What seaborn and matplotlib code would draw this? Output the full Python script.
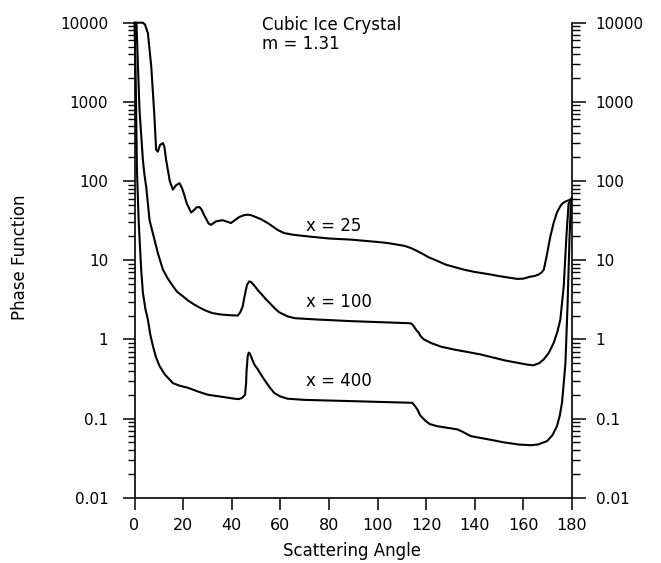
import numpy as np
import pandas as pd
import matplotlib
matplotlib.use("Agg")
import matplotlib.pyplot as plt
import matplotlib.ticker as mticker
import seaborn as sns

# ---- data ----
angle_x25 = [0, 3.4, 4.3, 5.5, 6.9, 8.2, 8.9, 9.6, 10.5, 11.7, 12.3, 13.0, 14.5, 15.8, 17.0,
             18.5, 19.5, 20.4, 21.5, 23.3, 24.5, 25.5, 26.7, 27.5, 28.5, 30.5, 31.5, 33.6,
             36.3, 39.7, 43.0, 45.0, 46.6, 48.0, 50.4, 52.0, 54.8, 57.0, 59.0, 61.6, 65.0,
             71.2, 80.0, 89.0, 100.0, 104.0, 108.2, 111.0, 113.6, 116.0, 119.0, 121.0, 124.6,
             128.0, 135.5, 140.0, 146.5, 150.0, 157.5, 160.0, 162.9, 164.5, 166.3, 167.5,
             168.4, 169.5, 171.1, 172.5, 173.8, 175.0, 176.0, 177.3, 179.1, 180]
phase_x25 = [10000, 10000, 9500, 7400, 2790, 650, 248, 235, 285, 302, 270, 186, 100, 78, 88,
             94, 82, 68, 52, 40, 43, 46.5, 47, 44, 38, 29, 28, 31,
             32, 29.5, 35, 37, 37.6, 37, 34.6, 33, 29.5, 26.5, 24, 22, 21,
             20, 18.8, 18.2, 17, 16.5, 15.7, 15.2, 14.3, 13.2, 11.8, 10.9, 9.8,
             8.8, 7.6, 7.1, 6.6, 6.3, 5.8, 5.85, 6.2, 6.3, 6.6, 7.0,
             7.6, 11, 20, 30, 40, 47, 52, 55, 58, 61]

angle_x100 = [0, 0.8, 2.05, 3.45, 4.1, 4.8, 6.2, 7.7, 9.6, 11.7, 13.5, 15.8, 17.5, 19.9, 22.0,
              24.6, 27.0, 29.4, 32.0, 35.6, 39.0, 42.5, 43.5, 44.5, 45.2, 45.9, 46.3, 47.2,
              48.0, 48.7, 49.5, 50.7, 52.0, 54.1, 55.5, 57.5, 59.5, 63.0, 66.0, 75.3, 89.0,
              113.0, 114.0, 115.0, 116.0, 117.0, 117.5, 119.0, 120.5, 122.0, 126.0, 131.4,
              142.4, 152.6, 161.6, 164.0, 166.5, 168.4, 170.5, 172.5, 174.0, 175.2, 176.6,
              177.7, 178.6, 180]
phase_x100 = [10000, 10000, 800, 185, 120, 85, 32, 21, 12.3, 7.6, 6.0, 4.7, 4.0, 3.5, 3.1,
              2.75, 2.5, 2.3, 2.15, 2.06, 2.02, 2.0, 2.2, 2.6, 3.4, 4.3, 4.9, 5.4,
              5.3, 5.0, 4.7, 4.2, 3.8, 3.2, 2.9, 2.5, 2.2, 1.95, 1.85, 1.78, 1.7,
              1.6, 1.58, 1.45, 1.3, 1.21, 1.12, 1.0, 0.95, 0.9, 0.81, 0.745,
              0.645, 0.54, 0.48, 0.47, 0.5, 0.56, 0.68, 0.91, 1.25, 1.78, 4.7,
              20, 52, 60]

angle_x400 = [0, 0.4, 0.8, 1.0, 1.7, 2.75, 3.45, 4.5, 5.5, 6.5, 7.6, 8.8, 10.3, 12.5, 15.8,
              18.5, 21.9, 26.0, 30.1, 35.0, 41.1, 43.0, 44.5, 44.8, 45.5, 45.7, 45.9, 46.1,
              46.6, 47.0, 47.5, 48.7, 49.5, 50.7, 52.0, 53.4, 55.5, 57.5, 60.0, 63.0, 70.0,
              89.0, 114.3, 115.3, 116.4, 117.5, 119.8, 121.5, 124.6, 128.0, 132.8, 135.0,
              138.3, 145.0, 152.0, 158.0, 162.9, 166.0, 169.8, 172.0, 173.8, 175.0, 175.9,
              176.6, 177.3, 178.2, 179.0, 179.6, 180]
phase_x400 = [10000, 3000, 400, 140, 32, 7.6, 3.9, 2.4, 1.78, 1.15, 0.82, 0.6, 0.46, 0.36, 0.28,
              0.26, 0.245, 0.22, 0.2, 0.19, 0.178, 0.176, 0.184, 0.19, 0.2, 0.24, 0.27, 0.4,
              0.62, 0.68, 0.66, 0.53, 0.47, 0.42, 0.36, 0.31, 0.25, 0.21, 0.19, 0.178, 0.172,
              0.166, 0.158, 0.145, 0.13, 0.11, 0.093, 0.085, 0.08, 0.077, 0.073, 0.068,
              0.06, 0.055, 0.05, 0.047, 0.046, 0.047, 0.052, 0.062, 0.08, 0.11, 0.16,
              0.28, 0.5, 2.9, 20, 58, 60]

series_names = ["x = 25", "x = 100", "x = 400"]
y_ticks = [0.01, 0.1, 1, 10, 100, 1000, 10000]
y_tick_labels = ["0.01", "0.1", "1", "10", "100", "1000", "10000"]
x_ticks = [0, 20, 40, 60, 80, 100, 120, 140, 160, 180]

df = pd.concat([
    pd.DataFrame({"angle": angle_x25, "phase": phase_x25, "size": series_names[0]}),
    pd.DataFrame({"angle": angle_x100, "phase": phase_x100, "size": series_names[1]}),
    pd.DataFrame({"angle": angle_x400, "phase": phase_x400, "size": series_names[2]}),
], ignore_index=True)

sns.set_style("ticks")
plt.rcParams["font.family"] = ["DejaVu Sans"]
plt.rcParams["text.color"] = "black"
plt.rcParams["axes.labelcolor"] = "black"
plt.rcParams["xtick.color"] = "black"
plt.rcParams["ytick.color"] = "black"

fig = plt.figure(figsize=(6.61, 5.63), dpi=100)
L, R = 134.5 / 661, 572 / 661
B, T = 1 - 497.7 / 563, 1 - 22.7 / 563
ax = fig.add_axes([L, B, R - L, T - B])

sns.lineplot(data=df, x="angle", y="phase", hue="size", units="size", estimator=None,
             sort=False, palette=["black"] * 3, linewidth=1.5, legend=False, ax=ax)
for ln in ax.lines:
    ln.set_clip_on(False)
    ln.set_solid_joinstyle("round")

ax.set_yscale("log")
ax.set_xlim(0, 180)
ax.set_ylim(0.01, 10000)

ax.set_xticks(x_ticks)
ax.set_xticklabels([str(t) for t in x_ticks], fontsize=11.5)
ax.set_yticks(y_ticks)
ax.set_yticklabels(y_tick_labels, fontsize=11)
ax.yaxis.set_minor_locator(mticker.LogLocator(base=10, subs=np.arange(2, 10), numticks=20))
ax.yaxis.set_minor_formatter(mticker.NullFormatter())

ax.tick_params(axis="x", which="major", direction="out", length=8.8, width=1.1, pad=6)
ax.tick_params(axis="y", which="major", direction="out", length=8.4, width=1.1, pad=10.5)
ax.tick_params(axis="y", which="minor", direction="out", length=4.8, width=1.0)

for s in ["left", "bottom"]:
    ax.spines[s].set_linewidth(1.2)
    ax.spines[s].set_color("black")
ax.spines["top"].set_visible(False)
ax.spines["right"].set_visible(False)

# right-side duplicate axis
ax2 = ax.twinx()
ax2.set_yscale("log")
ax2.set_ylim(0.01, 10000)
ax2.set_yticks(y_ticks)
ax2.set_yticklabels(y_tick_labels, fontsize=11)
ax2.yaxis.set_minor_locator(mticker.LogLocator(base=10, subs=np.arange(2, 10), numticks=20))
ax2.yaxis.set_minor_formatter(mticker.NullFormatter())
ax2.tick_params(axis="y", which="major", direction="out", length=10, width=1.1, pad=7)
ax2.tick_params(axis="y", which="minor", direction="out", length=5.5, width=1.0)
for s in ["left", "top", "bottom"]:
    ax2.spines[s].set_visible(False)
ax2.spines["right"].set_linewidth(1.2)
ax2.spines["right"].set_color("black")

ax.set_xlabel("Scattering Angle", fontsize=12, va="center")
ax.xaxis.set_label_coords((352 - 134.5) / 437.5, (12 - 65.3) / 475)
ax.set_ylabel("Phase Function", fontsize=12, va="center")
ax.yaxis.set_label_coords((20 - 134.5) / 437.5, (563 - 257 - 65.3) / 475)

ax.text(52.5, 9300, "Cubic Ice Crystal", fontsize=12, ha="left", va="center")
ax.text(52.5, 5400, "m = 1.31", fontsize=12, ha="left", va="center")
ax.text(70.5, 27, series_names[0], fontsize=12, ha="left", va="center")
ax.text(70.5, 3.0, series_names[1], fontsize=12, ha="left", va="center")
ax.text(70.5, 0.30, series_names[2], fontsize=12, ha="left", va="center")

fig.savefig("out.png", dpi=100, facecolor="white")
